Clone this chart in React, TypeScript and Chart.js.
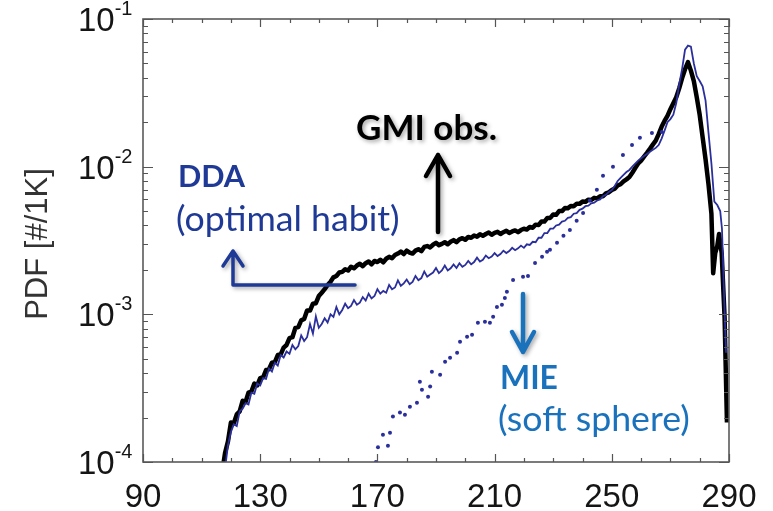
import { useEffect, useRef } from 'react';
import { Chart, registerables } from 'chart.js';

Chart.register(...registerables);

// Brightness temperature bins [K] and PDF values [#/1K]
const GMI_T = [
  117, 118, 119, 120, 121, 122, 123, 124, 125, 126,
  127, 128, 129, 130, 131, 132, 133, 134, 135, 136,
  137, 138, 139, 140, 141, 142, 143, 144, 145, 146,
  147, 148, 149, 150, 151, 152, 153, 154, 155, 156,
  157, 158, 159, 160, 161, 162, 163, 164, 165, 166,
  167, 168, 169, 170, 171, 172, 173, 174, 175, 176,
  177, 178, 179, 180, 181, 182, 183, 184, 185, 186,
  187, 188, 189, 190, 191, 192, 193, 194, 195, 196,
  197, 198, 199, 200, 201, 202, 203, 204, 205, 206,
  207, 208, 209, 210, 211, 212, 213, 214, 215, 216,
  217, 218, 219, 220, 221, 222, 223, 224, 225, 226,
  227, 228, 229, 230, 231, 232, 233, 234, 235, 236,
  237, 238, 239, 240, 241, 242, 243, 244, 245, 246,
  247, 248, 249, 250, 251, 252, 253, 254, 255, 256,
  257, 258, 259, 260, 261, 262, 263, 264, 265, 266,
  267, 268, 269, 270, 271, 272, 273, 274, 275, 276,
  277, 278, 279, 280, 281, 282, 283, 284,
  284.6, 285.3, 286, 286.6, 287.5, 288.5, 289.3,
];
const GMI_PDF = [
  8.5e-5, 1.15e-4, 1.38e-4, 1.85e-4, 1.83e-4, 2.1e-4, 2.2e-4, 2.6e-4, 2.55e-4, 2.95e-4,
  3.0e-4, 3.4e-4, 3.3e-4, 3.7e-4, 3.75e-4, 4.2e-4, 4.25e-4, 4.7e-4, 4.75e-4, 5.3e-4,
  5.35e-4, 5.95e-4, 6.2e-4, 6.9e-4, 7.0e-4, 8.1e-4, 8.2e-4, 9.1e-4, 9.3e-4, 1.06e-3,
  1.06e-3, 1.18e-3, 1.19e-3, 1.33e-3, 1.4e-3, 1.48e-3, 1.58e-3, 1.66e-3, 1.78e-3, 1.82e-3,
  1.92e-3, 1.94e-3, 2.02e-3, 1.98e-3, 2.1e-3, 2.05e-3, 2.14e-3, 2.2e-3, 2.12e-3, 2.22e-3,
  2.28e-3, 2.18e-3, 2.3e-3, 2.26e-3, 2.34e-3, 2.25e-3, 2.38e-3, 2.45e-3, 2.4e-3, 2.52e-3,
  2.58e-3, 2.66e-3, 2.56e-3, 2.7e-3, 2.62e-3, 2.58e-3, 2.7e-3, 2.76e-3, 2.68e-3, 2.86e-3,
  2.9e-3, 2.84e-3, 2.96e-3, 3.05e-3, 2.94e-3, 3.0e-3, 3.08e-3, 2.98e-3, 3.1e-3, 3.18e-3,
  3.08e-3, 3.22e-3, 3.28e-3, 3.2e-3, 3.34e-3, 3.3e-3, 3.42e-3, 3.36e-3, 3.48e-3, 3.4e-3,
  3.5e-3, 3.58e-3, 3.46e-3, 3.56e-3, 3.62e-3, 3.5e-3, 3.6e-3, 3.68e-3, 3.56e-3, 3.64e-3,
  3.7e-3, 3.6e-3, 3.72e-3, 3.8e-3, 3.75e-3, 3.9e-3, 3.86e-3, 4.05e-3, 4.02e-3, 4.25e-3,
  4.25e-3, 4.5e-3, 4.5e-3, 4.75e-3, 4.72e-3, 5.0e-3, 5.0e-3, 5.25e-3, 5.22e-3, 5.42e-3,
  5.4e-3, 5.6e-3, 5.6e-3, 5.8e-3, 5.78e-3, 5.98e-3, 5.95e-3, 6.15e-3, 6.1e-3, 6.3e-3,
  6.3e-3, 6.6e-3, 6.7e-3, 6.95e-3, 7.1e-3, 7.45e-3, 7.6e-3, 7.95e-3, 8.2e-3, 8.5e-3,
  9.1e-3, 9.8e-3, 1.05e-2, 1.1e-2, 1.17e-2, 1.24e-2, 1.32e-2, 1.41e-2, 1.5e-2, 1.66e-2,
  1.86e-2, 2.04e-2, 2.21e-2, 2.45e-2, 2.69e-2, 2.95e-2, 3.39e-2, 3.98e-2, 4.57e-2, 5.1e-2,
  4.47e-2, 3.8e-2, 2.95e-2, 2.24e-2, 1.58e-2, 1.12e-2, 7.6e-3, 4.8e-3,
  1.9e-3, 2.6e-3, 2.9e-3, 3.5e-3, 2.6e-3, 9.5e-4, 1.85e-4,
];

const DDA_T = [
  118, 119, 120, 121, 122, 123, 124, 125, 126, 127,
  128, 129, 130, 131, 132, 133, 134, 135, 136, 137,
  138, 139, 140, 141, 142, 143, 144, 145, 146, 147,
  148, 149, 150, 151, 152, 153, 154, 155, 156, 157,
  158, 159, 160, 161, 162, 163, 164, 165, 166, 167,
  168, 169, 170, 171, 172, 173, 174, 175, 176, 177,
  178, 179, 180, 181, 182, 183, 184, 185, 186, 187,
  188, 189, 190, 191, 192, 193, 194, 195, 196, 197,
  198, 199, 200, 201, 202, 203, 204, 205, 206, 207,
  208, 209, 210, 211, 212, 213, 214, 215, 216, 217,
  218, 219, 220, 221, 222, 223, 224, 225, 226, 227,
  228, 229, 230, 231, 232, 233, 234, 235, 236, 237,
  238, 239, 240, 241, 242, 243, 244, 245, 246, 247,
  248, 249, 250, 251, 252, 253, 254, 255, 256, 257,
  258, 259, 260, 261, 262, 263, 264, 265, 266, 267,
  268, 269, 270, 271, 272, 273, 274, 275, 276, 277,
  278, 279, 280, 281, 282, 283, 284, 285, 286, 287,
  287.6, 288.4, 289,
];
const DDA_PDF = [
  9.0e-5, 1.3e-4, 1.6e-4, 1.8e-4, 1.75e-4, 2.2e-4, 2.3e-4, 2.5e-4, 2.45e-4, 2.95e-4,
  2.9e-4, 3.4e-4, 3.3e-4, 3.7e-4, 3.65e-4, 4.3e-4, 4.1e-4, 4.7e-4, 4.5e-4, 5.3e-4,
  5.1e-4, 5.6e-4, 5.4e-4, 6.2e-4, 5.8e-4, 6.1e-4, 7.2e-4, 6.6e-4, 7.0e-4, 8.6e-4,
  7.4e-4, 9.7e-4, 8.1e-4, 8.6e-4, 9.4e-4, 8.8e-4, 1.0e-3, 9.6e-4, 1.12e-3, 1.0e-3,
  1.07e-3, 1.18e-3, 1.1e-3, 1.14e-3, 1.25e-3, 1.16e-3, 1.2e-3, 1.31e-3, 1.24e-3, 1.38e-3,
  1.28e-3, 1.33e-3, 1.48e-3, 1.38e-3, 1.44e-3, 1.4e-3, 1.58e-3, 1.48e-3, 1.52e-3, 1.7e-3,
  1.56e-3, 1.62e-3, 1.72e-3, 1.6e-3, 1.66e-3, 1.82e-3, 1.7e-3, 1.76e-3, 1.95e-3, 1.8e-3,
  1.86e-3, 1.92e-3, 2.06e-3, 1.9e-3, 1.98e-3, 2.14e-3, 1.98e-3, 2.05e-3, 2.18e-3, 2.06e-3,
  2.22e-3, 2.1e-3, 2.16e-3, 2.3e-3, 2.18e-3, 2.26e-3, 2.42e-3, 2.28e-3, 2.34e-3, 2.5e-3,
  2.4e-3, 2.46e-3, 2.6e-3, 2.48e-3, 2.56e-3, 2.7e-3, 2.6e-3, 2.68e-3, 2.82e-3, 2.72e-3,
  2.8e-3, 2.92e-3, 2.82e-3, 2.98e-3, 2.95e-3, 3.1e-3, 3.08e-3, 3.3e-3, 3.3e-3, 3.55e-3,
  3.55e-3, 3.8e-3, 3.8e-3, 4.0e-3, 4.05e-3, 4.25e-3, 4.3e-3, 4.5e-3, 4.55e-3, 4.8e-3,
  4.85e-3, 5.1e-3, 5.2e-3, 5.4e-3, 5.45e-3, 5.65e-3, 5.7e-3, 5.9e-3, 6.0e-3, 6.3e-3,
  6.45e-3, 6.75e-3, 6.95e-3, 7.4e-3, 8.0e-3, 8.4e-3, 8.8e-3, 9.2e-3, 9.5e-3, 1.0e-2,
  1.05e-2, 1.1e-2, 1.14e-2, 1.18e-2, 1.22e-2, 1.26e-2, 1.3e-2, 1.34e-2, 1.4e-2, 1.55e-2,
  1.75e-2, 2.0e-2, 2.1e-2, 2.25e-2, 2.7e-2, 3.6e-2, 4.6e-2, 6.2e-2, 6.6e-2, 6.5e-2,
  5.0e-2, 4.1e-2, 3.8e-2, 3.5e-2, 2.8e-2, 1.7e-2, 1.05e-2, 5.8e-3, 5.5e-3, 5.0e-3,
  3.8e-3, 1.2e-3, 5.5e-4,
];

const MIE_T = [
  169.5, 170.2, 171.9, 173.6, 174.3, 175.3, 177.7, 179.4, 181.1, 183.5,
  184.5, 185.2, 187.3, 188.0, 188.6, 191.4, 193.1, 194.8, 197.2, 198.2,
  200.6, 202.3, 204.3, 206.7, 208.4, 209.5, 210.8, 212.5, 213.5, 214.2,
  216.3, 219.7, 221.4, 223.8, 226.2, 227.9, 228.9, 231.3, 233.5, 235.7,
  238.0, 240.2, 242.5, 244.9, 247.0, 250.4, 253.8, 256.9, 259.6, 263.7,
  267.1,
];
const MIE_PDF = [
  1.0e-4, 1.26e-4, 1.53e-4, 1.29e-4, 1.58e-4, 2.03e-4, 2.16e-4, 2.09e-4, 2.37e-4, 2.52e-4,
  3.5e-4, 3.09e-4, 2.77e-4, 3.24e-4, 4.09e-4, 3.9e-4, 4.78e-4, 5.08e-4, 5.5e-4, 6.53e-4,
  7.05e-4, 7.27e-4, 8.77e-4, 8.91e-4, 8.77e-4, 9.64e-4, 1.12e-3, 1.16e-3, 1.29e-3, 1.42e-3,
  1.71e-3, 1.8e-3, 1.82e-3, 2.23e-3, 2.45e-3, 2.65e-3, 2.74e-3, 3.05e-3, 3.4e-3, 3.73e-3,
  4.3e-3, 4.86e-3, 5.9e-3, 6.97e-3, 8.67e-3, 9.98e-3, 1.2e-2, 1.4e-2, 1.57e-2, 1.69e-2,
  1.72e-2,
];

// Axis ticks
const X_LABELS = [90, 130, 170, 210, 250, 290];
const X_MINOR = [100, 110, 120, 140, 150, 160, 180, 190, 200, 220, 230, 240, 260, 270, 280];
const Y_DECADES = [1e-4, 1e-3, 1e-2, 1e-1];
const Y_EXPONENTS = ['-4', '-3', '-2', '-1'];
const Y_MANTISSAS = [2, 3, 4, 5, 6, 7, 8, 9];

const DDA_BLUE = '#2a2f9c';
const DDA_TEXT = '#1f3a96';
const MIE_BLUE = '#1a72bd';
const TICK_FONT = '"Liberation Sans", Arial, sans-serif';
const NOTE_FONT = 'Lato, "Open Sans", sans-serif';

function zip(xs: number[], ys: number[]) {
  return xs.map((x, i) => ({ x, y: ys[i] }));
}

// text sized so that it spans the given width
function note(
  ctx: CanvasRenderingContext2D,
  text: string,
  x: number,
  baseline: number,
  width: number,
  bold: boolean,
) {
  const weight = bold ? 'bold ' : '';
  ctx.font = `${weight}30px ${NOTE_FONT}`;
  const size = (30 * width) / ctx.measureText(text).width;
  ctx.font = `${weight}${size.toFixed(1)}px ${NOTE_FONT}`;
  ctx.fillText(text, x, baseline);
}

const framePlugin = {
  id: 'frameAndNotes',
  afterDraw(chart: any) {
    const ctx: CanvasRenderingContext2D = chart.ctx;
    const { left, right, top, bottom } = chart.chartArea;
    const xs = chart.scales.x;
    const ys = chart.scales.y;
    ctx.save();

    // frame
    ctx.strokeStyle = '#5a5a5a';
    ctx.lineWidth = 1.6;
    ctx.strokeRect(left, top, right - left, bottom - top);

    // inward tick marks on all four sides
    ctx.lineWidth = 1.2;
    ctx.strokeStyle = '#555';
    const vTick = (v: number, len: number) => {
      const px = Math.round(xs.getPixelForValue(v)) + 0.5;
      ctx.beginPath();
      ctx.moveTo(px, bottom);
      ctx.lineTo(px, bottom - len);
      ctx.moveTo(px, top);
      ctx.lineTo(px, top + len);
      ctx.stroke();
    };
    X_LABELS.forEach((v) => vTick(v, 8));
    X_MINOR.forEach((v) => vTick(v, 4));
    const hTick = (v: number, len: number) => {
      const py = Math.round(ys.getPixelForValue(v)) + 0.5;
      ctx.beginPath();
      ctx.moveTo(left, py);
      ctx.lineTo(left + len, py);
      ctx.moveTo(right, py);
      ctx.lineTo(right - len, py);
      ctx.stroke();
    };
    Y_DECADES.forEach((d, i) => {
      hTick(d, 10);
      if (i < Y_DECADES.length - 1) Y_MANTISSAS.forEach((m) => hTick(m * d, 5));
    });

    // tick labels
    ctx.fillStyle = '#151515';
    ctx.textBaseline = 'alphabetic';
    ctx.font = `33px ${TICK_FONT}`;
    ctx.textAlign = 'center';
    X_LABELS.forEach((v) => ctx.fillText(String(v), xs.getPixelForValue(v), 507));
    Y_DECADES.forEach((d, i) => {
      const py = ys.getPixelForValue(d);
      ctx.font = `33px ${TICK_FONT}`;
      ctx.textAlign = 'left';
      ctx.fillText('10', 78, py + 12);
      const w = ctx.measureText('10').width;
      ctx.font = `20px ${TICK_FONT}`;
      ctx.fillText(Y_EXPONENTS[i], 78 + w, py - 4);
    });

    // y axis title
    ctx.save();
    ctx.translate(38, 244);
    ctx.rotate(-Math.PI / 2);
    ctx.textAlign = 'center';
    ctx.textBaseline = 'middle';
    ctx.font = `31px ${TICK_FONT}`;
    ctx.fillStyle = '#333';
    ctx.fillText('PDF [#/1K]', 0, 0);
    ctx.restore();

    // annotation text
    ctx.textAlign = 'left';
    ctx.textBaseline = 'alphabetic';
    ctx.save();
    ctx.shadowColor = 'rgba(0,0,0,0.35)';
    ctx.shadowBlur = 4;
    ctx.shadowOffsetX = 2;
    ctx.shadowOffsetY = 2;
    ctx.fillStyle = '#000';
    note(ctx, 'GMI obs.', 356, 140, 141, true);
    ctx.restore();

    ctx.fillStyle = DDA_TEXT;
    note(ctx, 'DDA', 178, 187, 67, true);
    note(ctx, '(optimal habit)', 176, 231, 224, false);

    ctx.fillStyle = MIE_BLUE;
    note(ctx, 'MIE', 500, 389, 58, true);
    note(ctx, '(soft sphere)', 498, 431, 192, false);

    // arrows
    ctx.save();
    ctx.shadowColor = 'rgba(0,0,0,0.35)';
    ctx.shadowBlur = 4;
    ctx.shadowOffsetX = 2;
    ctx.shadowOffsetY = 2;
    ctx.lineCap = 'round';
    ctx.lineJoin = 'round';

    ctx.strokeStyle = '#000';
    ctx.lineWidth = 4.5;
    ctx.beginPath();
    ctx.moveTo(438, 232);
    ctx.lineTo(438, 155);
    ctx.moveTo(426, 176);
    ctx.lineTo(438, 155);
    ctx.lineTo(450, 176);
    ctx.stroke();

    ctx.strokeStyle = DDA_TEXT;
    ctx.lineWidth = 3.5;
    ctx.beginPath();
    ctx.moveTo(355, 285);
    ctx.lineTo(233, 285);
    ctx.lineTo(233, 251);
    ctx.moveTo(223, 266);
    ctx.lineTo(233, 251);
    ctx.lineTo(243, 266);
    ctx.stroke();

    ctx.strokeStyle = MIE_BLUE;
    ctx.lineWidth = 4.5;
    ctx.beginPath();
    ctx.moveTo(523, 294);
    ctx.lineTo(523, 352);
    ctx.moveTo(512, 332);
    ctx.lineTo(523, 352);
    ctx.lineTo(534, 332);
    ctx.stroke();
    ctx.restore();

    ctx.restore();
  },
};

export default function App() {
  const ref = useRef<HTMLCanvasElement>(null);

  useEffect(() => {
    const canvas = ref.current;
    if (!canvas) return;
    const chart = new Chart(canvas, {
      type: 'line',
      data: {
        datasets: [
          {
            label: 'GMI obs.',
            data: zip(GMI_T, GMI_PDF),
            borderColor: '#000',
            borderWidth: 4.5,
            borderJoinStyle: 'round',
            pointRadius: 0,
            clip: 0,
            order: 3,
          },
          {
            label: 'DDA',
            data: zip(DDA_T, DDA_PDF),
            borderColor: DDA_BLUE,
            borderWidth: 1.8,
            pointRadius: 0,
            clip: 0,
            order: 2,
          },
          {
            label: 'MIE',
            data: zip(MIE_T, MIE_PDF),
            showLine: false,
            pointRadius: 2,
            pointBorderWidth: 0,
            pointBackgroundColor: DDA_BLUE,
            backgroundColor: DDA_BLUE,
            clip: 0,
            order: 1,
          },
        ],
      },
      options: {
        responsive: false,
        animation: false,
        devicePixelRatio: 1,
        layout: { padding: { top: 19, right: 44, bottom: 0, left: 0 } },
        plugins: { legend: { display: false }, tooltip: { enabled: false } },
        elements: { line: { tension: 0 } },
        scales: {
          x: {
            type: 'linear',
            min: 90,
            max: 290,
            grid: { display: false },
            border: { display: false },
            ticks: { display: false },
            afterFit: (s: any) => {
              s.height = 49;
            },
          },
          y: {
            type: 'logarithmic',
            min: 1e-4,
            max: 1e-1,
            grid: { display: false },
            border: { display: false },
            ticks: { display: false },
            afterFit: (s: any) => {
              s.width = 143;
            },
          },
        },
      },
      plugins: [framePlugin],
    } as any);
    return () => chart.destroy();
  }, []);

  return (
    <div style={{ position: 'absolute', left: 0, top: 0, width: 773, height: 511, background: '#fff' }}>
      <canvas ref={ref} width={773} height={511} style={{ display: 'block' }} />
    </div>
  );
}
